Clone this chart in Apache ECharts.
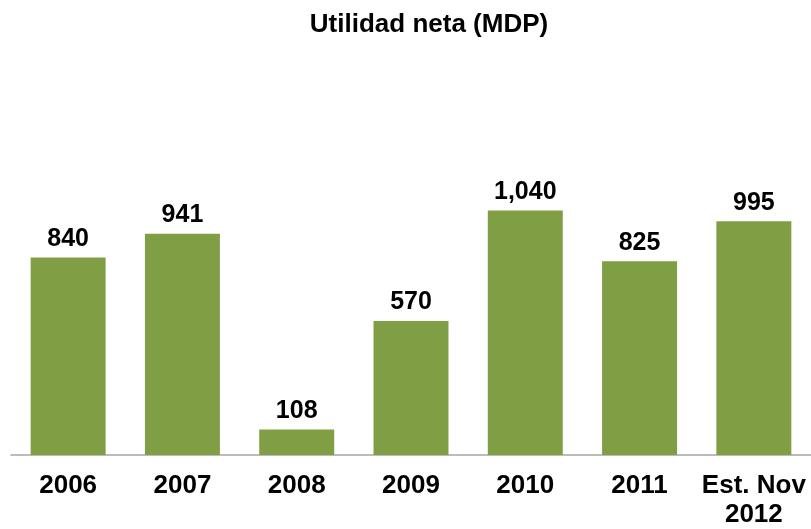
<!DOCTYPE html>
<html><head><meta charset="utf-8">
<script src="https://cdn.jsdelivr.net/npm/echarts@6/dist/echarts.min.js"></script>
<style>html,body{margin:0;padding:0;background:#fff}#c{width:811px;height:529px}</style>
</head><body><div id="c"></div>
<script>
const categories = ['2006','2007','2008','2009','2010','2011','Est. Nov\n2012'];
const values = [840, 941, 108, 570, 1040, 825, 995];
const chart = echarts.init(document.getElementById('c'));
chart.setOption({
  animation:false,
  title:{text:'Utilidad neta (MDP)',left:424,textAlign:'center',top:5,
    textStyle:{fontFamily:'Liberation Sans',fontWeight:'bold',fontSize:26,lineHeight:29,color:'#000'}},
  grid:{left:11,right:0,top:126,bottom:73},
  xAxis:{type:'category',data:categories,
    axisLine:{lineStyle:{color:'#a6a6a6',width:1.5}},axisTick:{show:false},
    axisLabel:{fontFamily:'Liberation Sans',fontWeight:'bold',fontSize:26,color:'#000',margin:16,lineHeight:29,interval:0}},
  yAxis:{type:'value',min:0,max:1400,show:false,splitLine:{show:false}},
  series:[{type:'bar',data:values,barWidth:'65.6%',
    itemStyle:{color:'#809f45'},
    label:{show:true,position:'top',distance:6,fontFamily:'Liberation Sans',fontWeight:'bold',fontSize:25,color:'#000',
      formatter:p=>p.value.toLocaleString('en-US')}}]
});
</script></body></html>
